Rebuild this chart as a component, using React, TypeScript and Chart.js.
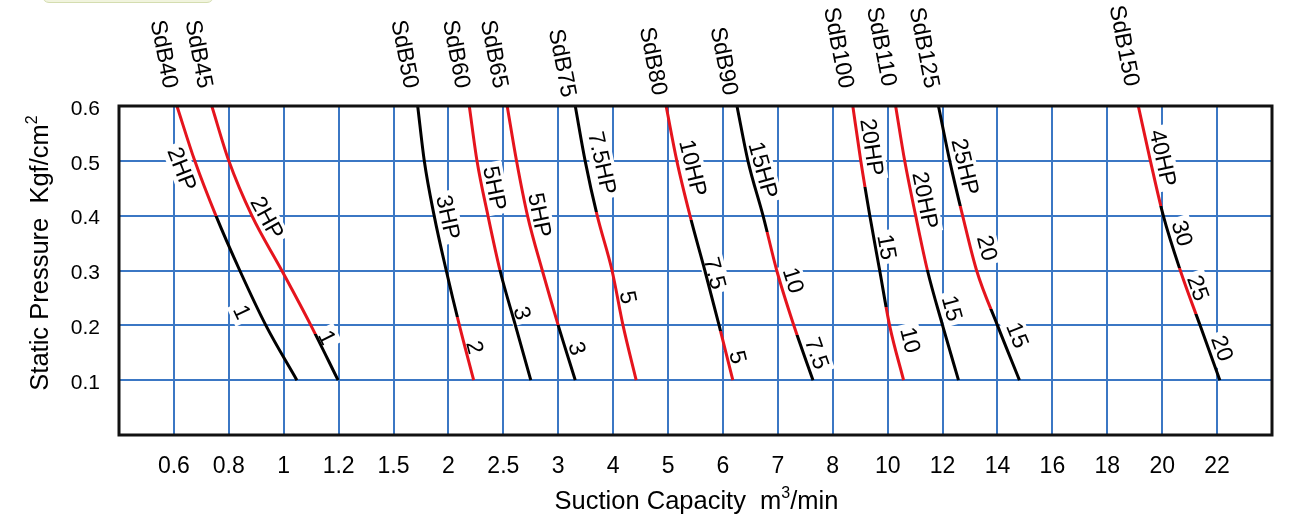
import React, { useEffect, useRef } from 'react';
import { Chart, registerables } from 'chart.js';

Chart.register(...registerables);

// ---------- data ----------
// x axis: suction capacity (m³/min) on an evenly spaced, non-linear scale
const CAPACITY_TICKS = [0.6, 0.8, 1, 1.2, 1.5, 2, 2.5, 3, 4, 5, 6, 7, 8, 10, 12, 14, 16, 18, 20, 22];
const CAPACITY_TICK_LABELS = ['0.6', '0.8', '1', '1.2', '1.5', '2', '2.5', '3', '4', '5', '6', '7', '8', '10', '12', '14', '16', '18', '20', '22'];
// y axis: static pressure (kgf/cm²)
const PRESSURE_TICKS = [0.1, 0.2, 0.3, 0.4, 0.5, 0.6];
// pressure levels at which each curve is given
const PRESSURE_LEVELS = [0.6, 0.5, 0.4, 0.3, 0.2, 0.1];

const MODELS = ['SdB40', 'SdB45', 'SdB50', 'SdB60', 'SdB65', 'SdB75', 'SdB80', 'SdB90', 'SdB100', 'SdB110', 'SdB125', 'SdB150'];

// capacity (m³/min) of every model at PRESSURE_LEVELS
const SDB40 = [0.611, 0.676, 0.753, 0.84, 0.935, 1.048];
const SDB45 = [0.738, 0.8, 0.884, 0.993, 1.099, 1.198];
const SDB50 = [1.72, 1.78, 1.87, 1.98, 2.1, 2.23];
const SDB60 = [2.19, 2.26, 2.36, 2.47, 2.61, 2.75];
const SDB65 = [2.535, 2.62, 2.72, 2.855, 3.0, 3.31];
const SDB75 = [3.31, 3.49, 3.71, 3.98, 4.18, 4.42];
const SDB80 = [4.965, 5.16, 5.4, 5.67, 5.93, 6.18];
const SDB90 = [6.255, 6.455, 6.73, 6.98, 7.29, 7.64];
const SDB100 = [8.73, 9.02, 9.35, 9.71, 10.07, 10.58];
const SDB110 = [10.29, 10.62, 11.02, 11.45, 12.0, 12.58];
const SDB125 = [11.85, 12.26, 12.73, 13.24, 14.0, 14.8];
const SDB150 = [19.13, 19.57, 20.04, 20.66, 21.38, 22.1];

// motor runs along each curve, from 0.6 downwards: [pressure where run ends, 'R' | 'K']
const RUN40: [number, string][] = [[0.4, 'R'], [0.1, 'K']];
const RUN45: [number, string][] = [[0.185, 'R'], [0.1, 'K']];
const RUN50: [number, string][] = [[0.215, 'K'], [0.1, 'R']];
const RUN60: [number, string][] = [[0.3, 'R'], [0.1, 'K']];
const RUN65: [number, string][] = [[0.2, 'R'], [0.1, 'K']];
const RUN75: [number, string][] = [[0.407, 'K'], [0.1, 'R']];
const RUN80: [number, string][] = [[0.393, 'R'], [0.19, 'K'], [0.1, 'R']];
const RUN90: [number, string][] = [[0.37, 'K'], [0.183, 'R'], [0.1, 'K']];
const RUN100: [number, string][] = [[0.453, 'R'], [0.233, 'K'], [0.1, 'R']];
const RUN110: [number, string][] = [[0.3, 'R'], [0.1, 'K']];
const RUN125: [number, string][] = [[0.417, 'K'], [0.23, 'R'], [0.1, 'K']];
const RUN150: [number, string][] = [[0.417, 'R'], [0.305, 'K'], [0.22, 'R'], [0.1, 'K']];

// motor labels: [text, capacity, pressure]
const LBL40: [string, number, number][] = [['2HP', 0.629, 0.485], ['1', 0.848, 0.224]];
const LBL45: [string, number, number][] = [['2HP', 0.939, 0.396], ['1', 1.157, 0.178]];
const LBL50: [string, number, number][] = [['3HP', 1.995, 0.397], ['2', 2.24, 0.16]];
const LBL60: [string, number, number][] = [['5HP', 2.42, 0.45], ['3', 2.67, 0.222]];
const LBL65: [string, number, number][] = [['5HP', 2.83, 0.401], ['3', 3.34, 0.158]];
const LBL75: [string, number, number][] = [['7.5HP', 3.8, 0.496], ['5', 4.27, 0.251]];
const LBL80: [string, number, number][] = [['10HP', 5.45, 0.487], ['7.5', 5.85, 0.295], ['5', 6.27, 0.142]];
const LBL90: [string, number, number][] = [['15HP', 6.73, 0.483], ['10', 7.28, 0.282], ['7.5', 7.71, 0.149]];
const LBL100: [string, number, number][] = [['20HP', 9.42, 0.525], ['15', 9.97, 0.343], ['10', 10.82, 0.173]];
const LBL110: [string, number, number][] = [['20HP', 11.36, 0.428], ['15', 12.34, 0.231]];
const LBL125: [string, number, number][] = [['25HP', 12.82, 0.489], ['20', 13.62, 0.341], ['15', 14.72, 0.182]];
const LBL150: [string, number, number][] = [['40HP', 20.02, 0.505], ['30', 20.72, 0.368], ['25', 21.3, 0.268], ['20', 22.18, 0.158]];

const CURVES = [SDB40, SDB45, SDB50, SDB60, SDB65, SDB75, SDB80, SDB90, SDB100, SDB110, SDB125, SDB150];
const RUNS = [RUN40, RUN45, RUN50, RUN60, RUN65, RUN75, RUN80, RUN90, RUN100, RUN110, RUN125, RUN150];
const LABELS = [LBL40, LBL45, LBL50, LBL60, LBL65, LBL75, LBL80, LBL90, LBL100, LBL110, LBL125, LBL150];

// ---------- style ----------
const FONT = '"Liberation Sans", Arial, Helvetica, sans-serif';
const RED = '#e5141d';
const BLACK = '#000000';
const GRID = '#3b77c4';
const RUN_COLOR: Record<string, string> = { R: RED, K: BLACK };
const TOP_LABEL_BASE = [88, 88, 88, 88, 88, 97, 95, 95, 88, 86, 88, 86];

// capacity -> position on the evenly spaced tick index scale
function capToIdx(v: number): number {
  const t = CAPACITY_TICKS;
  let i = 0;
  while (i < t.length - 2 && v > t[i + 1]) i++;
  return i + (v - t[i]) / (t[i + 1] - t[i]);
}

const labelPlugin = {
  id: 'curveLabels',
  beforeDatasetsDraw(chart: any) {
    const ctx = chart.ctx as CanvasRenderingContext2D;
    const xs = chart.scales.x;
    const ys = chart.scales.y;
    ctx.save();
    ctx.font = `23px ${FONT}`;
    ctx.textAlign = 'center';
    ctx.textBaseline = 'middle';
    LABELS.forEach((list, m) => {
      const cap = CURVES[m];
      list.forEach(([text, c, p]) => {
        let k = 0;
        while (k < PRESSURE_LEVELS.length - 2 && p < PRESSURE_LEVELS[k + 1]) k++;
        const x0 = xs.getPixelForValue(capToIdx(cap[k]));
        const y0 = ys.getPixelForValue(PRESSURE_LEVELS[k]);
        const x1 = xs.getPixelForValue(capToIdx(cap[k + 1]));
        const y1 = ys.getPixelForValue(PRESSURE_LEVELS[k + 1]);
        const ang = Math.atan2(y1 - y0, x1 - x0);
        const px = xs.getPixelForValue(capToIdx(c));
        const py = ys.getPixelForValue(p);
        const w = ctx.measureText(text).width;
        ctx.save();
        ctx.translate(px, py);
        ctx.rotate(ang);
        ctx.fillStyle = '#ffffff';
        ctx.fillRect(-w / 2 - 4, -12, w + 8, 24);
        ctx.fillStyle = BLACK;
        ctx.fillText(text, 0, 1);
        ctx.restore();
      });
    });
    ctx.restore();
  },
  afterDraw(chart: any) {
    const ctx = chart.ctx as CanvasRenderingContext2D;
    const a = chart.chartArea;
    const xs = chart.scales.x;
    ctx.save();
    // frame
    ctx.strokeStyle = '#111';
    ctx.lineWidth = 3;
    ctx.strokeRect(a.left, a.top, a.right - a.left, a.bottom - a.top);

    // model names above each curve
    ctx.fillStyle = BLACK;
    ctx.font = `23px ${FONT}`;
    ctx.textAlign = 'right';
    ctx.textBaseline = 'middle';
    MODELS.forEach((name, m) => {
      const x = xs.getPixelForValue(capToIdx(CURVES[m][0])) - 7;
      ctx.save();
      ctx.translate(x, TOP_LABEL_BASE[m]);
      ctx.rotate((79 * Math.PI) / 180);
      ctx.fillText(name, 0, 0);
      ctx.restore();
    });

    // axis titles with superscripts
    const drawTitle = (main: string, sup: string, tail: string, cx: number, base: number, rot: number) => {
      ctx.save();
      ctx.translate(cx, base);
      ctx.rotate(rot);
      ctx.textAlign = 'left';
      ctx.textBaseline = 'alphabetic';
      ctx.font = `25.5px ${FONT}`;
      const w1 = ctx.measureText(main).width;
      const w3 = ctx.measureText(tail).width;
      ctx.font = `16px ${FONT}`;
      const w2 = ctx.measureText(sup).width;
      let x = -(w1 + w2 + w3) / 2;
      ctx.font = `25.5px ${FONT}`;
      ctx.fillText(main, x, 0);
      x += w1;
      ctx.font = `16px ${FONT}`;
      ctx.fillText(sup, x, -11);
      x += w2;
      ctx.font = `25.5px ${FONT}`;
      ctx.fillText(tail, x, 0);
      ctx.restore();
    };
    drawTitle('Suction Capacity  m', '3', '/min', (a.left + a.right) / 2 + 1, 509, 0);
    drawTitle('Static Pressure  Kgf/cm', '2', '', 48, 253, -Math.PI / 2);
    ctx.restore();
  },
};

export default function App() {
  const ref = useRef<HTMLCanvasElement>(null);

  useEffect(() => {
    const canvas = ref.current;
    if (!canvas) return;

    const datasets = MODELS.map((name, m) => ({
      label: name,
      data: PRESSURE_LEVELS.map((p, k) => ({ x: capToIdx(CURVES[m][k]), y: p })),
      borderWidth: 3,
      pointRadius: 0,
      fill: false,
      cubicInterpolationMode: 'monotone' as const,
      borderColor: (c: any) => {
        const chart = c.chart;
        const ys = chart.scales && chart.scales.y;
        if (!ys || !chart.chartArea) return BLACK;
        const yTop = ys.getPixelForValue(0.6);
        const yBot = ys.getPixelForValue(0.1);
        const g = chart.ctx.createLinearGradient(0, yTop, 0, yBot);
        const t = (p: number) => Math.min(1, Math.max(0, (0.6 - p) / 0.5));
        let start = 0.6;
        RUNS[m].forEach(([end, code]) => {
          g.addColorStop(t(start), RUN_COLOR[code]);
          g.addColorStop(t(end), RUN_COLOR[code]);
          start = end;
        });
        return g;
      },
    }));

    const chart = new Chart(canvas, {
      type: 'line',
      data: { datasets },
      options: {
        responsive: false,
        animation: false,
        devicePixelRatio: 1,
        layout: { padding: { top: 106, right: 18, left: 0, bottom: 0 } },
        plugins: { legend: { display: false }, tooltip: { enabled: false } },
        scales: {
          x: {
            type: 'linear',
            min: -1,
            max: 20,
            afterFit: (s: any) => {
              s.height = 85;
            },
            ticks: {
              stepSize: 1,
              autoSkip: false,
              maxRotation: 0,
              minRotation: 0,
              padding: 18,
              color: BLACK,
              font: { family: FONT, size: 23 },
              callback: (v: any) => {
                const i = Math.round(Number(v));
                return i >= 0 && i < CAPACITY_TICK_LABELS.length ? CAPACITY_TICK_LABELS[i] : '';
              },
            },
            grid: {
              drawTicks: false,
              lineWidth: 2,
              color: (c: any) => {
                const v = c.tick ? Math.round(c.tick.value) : -1;
                return v >= 0 && v < CAPACITY_TICKS.length ? GRID : 'rgba(0,0,0,0)';
              },
            },
            border: { display: false },
          },
          y: {
            type: 'linear',
            min: 0,
            max: 0.6,
            afterFit: (s: any) => {
              s.width = 119;
            },
            afterBuildTicks: (s: any) => {
              s.ticks = [0, ...PRESSURE_TICKS].map((v) => ({ value: v }));
            },
            ticks: {
              padding: 19,
              labelOffset: 3,
              color: BLACK,
              font: { family: FONT, size: 21 },
              callback: (v: any) => (Number(v) < 0.05 ? '' : Number(v).toFixed(1)),
            },
            grid: {
              drawTicks: false,
              lineWidth: 2,
              color: (c: any) => {
                const v = c.tick ? c.tick.value : 0;
                return v > 0.05 && v < 0.55 ? GRID : 'rgba(0,0,0,0)';
              },
            },
            border: { display: false },
          },
        },
      },
      plugins: [labelPlugin],
    });

    return () => chart.destroy();
  }, []);

  return (
    <div style={{ position: 'fixed', left: 0, top: 0, width: 1290, height: 520, background: '#ffffff', overflow: 'hidden' }}>
      <canvas ref={ref} width={1290} height={520} style={{ position: 'absolute', left: 0, top: 0, width: 1290, height: 520 }} />
      <div
        style={{
          position: 'absolute',
          left: 42,
          top: -12,
          width: 170,
          height: 13,
          borderRadius: 7,
          background: '#f1f4de',
          border: '1px solid #d4ddb0',
        }}
      />
    </div>
  );
}
